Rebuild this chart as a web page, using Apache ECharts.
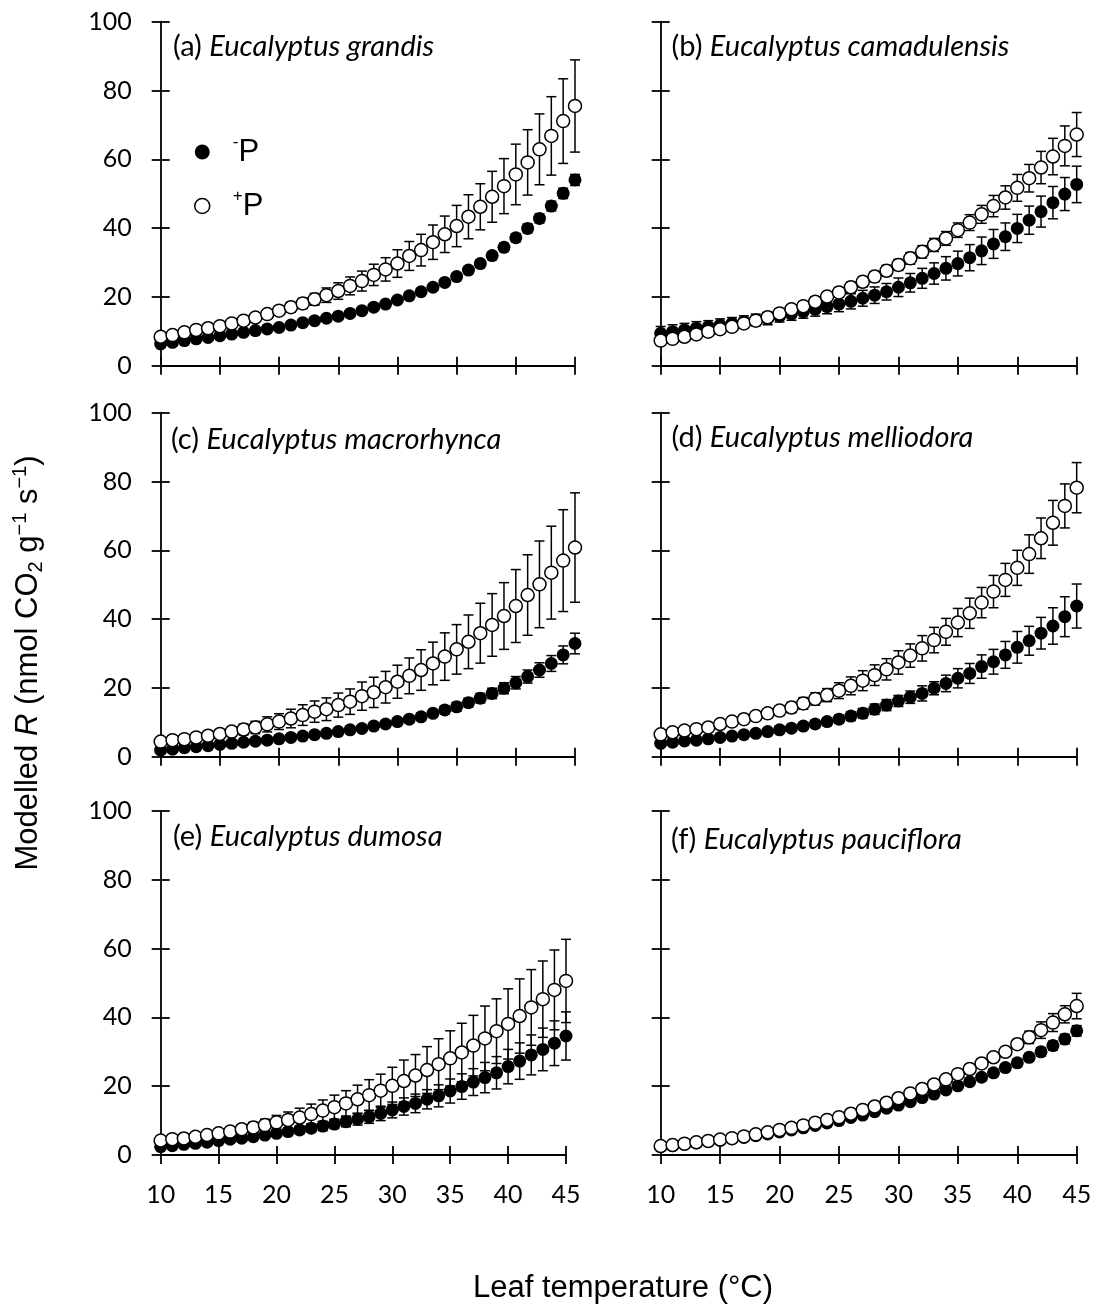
<!DOCTYPE html>
<html><head><meta charset="utf-8">
<script src="https://cdn.jsdelivr.net/npm/echarts@6/dist/echarts.min.js"></script>
<style>html,body{margin:0;padding:0;background:#fff}#c{width:1096px;height:1309px}</style>
</head><body><div id="c"></div>
<script>
// ---------- DATA ----------
const temps = [10,11,12,13,14,15,16,17,18,19,20,21,22,23,24,25,26,27,28,29,30,31,32,33,34,35,36,37,38,39,40,41,42,43,44,45];
const xTicks = [10,15,20,25,30,35,40,45];
const yTicks = [0,20,40,60,80,100];
const seriesNames = ['-P','+P'];
const panelLetters = ['(a)','(b)','(c)','(d)','(e)','(f)'];
const species = ['Eucalyptus grandis','Eucalyptus camadulensis','Eucalyptus macrorhynca','Eucalyptus melliodora','Eucalyptus dumosa','Eucalyptus pauciflora'];

const aMinus    = [6.3,6.8,7.3,7.8,8.2,8.7,9.2,9.7,10.2,10.7,11.1,11.8,12.5,13.1,13.8,14.4,15.2,16.0,17.0,17.9,19.1,20.3,21.5,22.8,24.2,25.9,27.8,29.7,32.0,34.4,37.2,39.9,42.8,46.4,50.1,54.0];
const aMinusErr = [0.2,0.2,0.2,0.2,0.3,0.3,0.3,0.3,0.3,0.4,0.4,0.4,0.4,0.5,0.5,0.5,0.6,0.6,0.6,0.7,0.7,0.8,0.8,0.9,0.9,1.0,1.0,1.1,1.1,1.2,1.2,1.3,1.3,1.4,1.5,1.6];
const aPlus     = [8.4,8.9,9.7,10.4,10.9,11.5,12.3,13.1,14.0,15.0,16.0,17.0,18.1,19.3,20.5,21.7,23.2,24.6,26.4,28.0,29.7,31.9,33.6,35.9,38.2,40.6,43.3,46.2,49.1,52.2,55.6,59.1,62.9,66.8,71.1,75.5];
const aPlusErr  = [0.5,0.5,0.6,0.6,0.7,0.8,0.8,0.9,1.0,1.1,1.2,1.4,1.5,1.7,2.1,2.4,2.6,2.9,3.1,3.4,4.0,4.2,4.6,5.0,5.3,6.0,6.4,6.7,7.4,8.0,8.8,9.5,10.3,11.4,12.3,13.4];

const bMinus    = [9.4,9.9,10.4,10.9,11.3,11.8,12.3,12.8,13.3,13.7,14.4,15.0,15.7,16.4,17.2,17.9,18.7,19.6,20.5,21.5,22.8,24.1,25.4,26.8,28.3,29.7,31.4,33.4,35.4,37.5,39.9,42.3,44.8,47.4,49.9,52.7];
const bMinusErr = [2.0,2.0,1.9,1.9,1.8,1.8,1.7,1.7,1.7,1.8,1.7,1.8,1.9,2.0,2.1,2.2,2.2,2.3,2.4,2.4,2.7,2.7,2.9,3.1,3.4,3.6,3.8,4.0,4.2,4.0,4.1,4.1,4.5,4.7,4.8,5.3];
const bPlus     = [7.3,7.8,8.4,9.1,9.9,10.6,11.3,12.3,13.1,14.1,15.2,16.4,17.3,18.6,20.1,21.3,22.8,24.4,25.9,27.6,29.3,31.2,33.1,35.1,37.0,39.4,41.6,44.0,46.4,48.9,51.7,54.5,57.6,60.8,63.9,67.2];
const bPlusErr  = [1.0,1.0,1.0,1.0,1.1,1.1,1.1,1.2,1.2,1.2,1.3,1.3,1.3,1.4,1.4,1.4,1.5,1.5,1.5,1.6,1.6,1.7,1.8,1.9,2.0,2.1,2.3,2.6,3.1,3.4,3.9,4.0,4.7,5.3,5.8,6.4];

const cMinus    = [1.9,2.2,2.6,2.9,3.2,3.6,3.9,4.2,4.5,4.8,5.2,5.6,6.0,6.4,6.8,7.3,7.8,8.2,8.9,9.5,10.2,10.9,11.6,12.6,13.6,14.5,15.7,17.0,18.4,19.9,21.5,23.3,25.2,27.1,29.6,32.9];
const cMinusErr = [0.2,0.2,0.2,0.3,0.3,0.3,0.3,0.4,0.4,0.4,0.5,0.5,0.5,0.6,0.6,0.7,0.7,0.8,0.8,0.9,0.9,1.0,1.0,1.1,1.2,1.3,1.3,1.4,1.5,1.6,1.8,1.9,2.1,2.3,2.6,3.0];
const cPlus     = [4.4,4.8,5.1,5.6,6.1,6.6,7.3,7.9,8.5,9.4,10.2,11.1,12.1,13.1,13.8,15.0,16.0,17.6,18.7,20.2,21.8,23.5,25.2,27.1,29.1,31.2,33.4,35.9,38.3,40.9,43.8,47.0,50.1,53.5,57.0,60.8];
const cPlusErr  = [0.6,0.7,0.7,0.8,1.0,1.2,1.4,1.6,1.8,2.2,2.3,2.7,3.0,3.1,3.3,3.5,3.7,4.1,4.4,4.6,4.8,5.2,5.9,6.2,6.9,7.2,7.8,8.7,9.1,9.7,10.6,11.7,12.6,13.5,14.8,15.9];

const dMinus    = [3.9,4.2,4.6,4.8,5.2,5.6,6.0,6.4,6.8,7.3,7.8,8.3,8.9,9.5,10.2,10.9,11.8,12.6,13.8,15.0,16.2,17.3,18.4,19.9,21.3,22.8,24.2,26.2,27.6,29.6,31.8,33.7,35.9,38.0,40.7,43.8];
const dMinusErr = [0.4,0.4,0.5,0.5,0.6,0.6,0.7,0.7,0.8,0.8,0.9,0.9,1.0,1.0,1.1,1.2,1.3,1.4,1.5,1.6,1.6,1.8,2.2,1.9,2.4,2.8,2.9,3.4,3.6,3.9,4.6,4.2,4.6,5.3,5.8,6.4];
const dPlus     = [6.5,7.1,7.6,8.0,8.5,9.5,10.2,10.9,11.8,12.6,13.4,14.3,15.5,16.8,17.9,19.2,20.6,22.1,23.7,25.4,27.4,29.4,31.5,33.9,36.3,39.0,41.7,44.8,48.0,51.4,54.9,58.9,63.5,68.0,72.9,78.2];
const dPlusErr  = [0.5,0.6,0.6,0.7,0.8,0.9,1.0,1.1,1.2,1.3,1.4,1.5,1.7,1.8,1.9,2.3,2.6,2.9,3.0,3.1,3.4,3.4,3.7,3.7,3.9,4.1,4.4,4.4,4.7,4.8,5.1,5.6,5.9,6.5,6.4,7.3];

const eMinus    = [2.4,2.7,3.1,3.4,3.7,4.2,4.6,4.9,5.3,5.8,6.3,6.8,7.3,7.8,8.4,9.0,9.7,10.4,11.1,12.1,13.1,14.1,15.0,16.2,17.2,18.6,19.9,21.2,22.5,23.9,25.7,27.3,29.1,30.7,32.5,34.6];
const eMinusErr = [0.4,0.4,0.5,0.5,0.6,0.6,0.7,0.7,0.8,0.8,0.9,1.0,1.1,1.2,1.3,1.3,1.5,1.7,1.9,2.1,2.3,2.5,2.7,2.8,3.2,3.5,3.7,3.9,4.4,4.7,5.0,5.3,5.8,6.2,6.5,7.0];
const ePlus     = [4.2,4.6,4.8,5.3,5.8,6.3,6.8,7.5,8.0,8.7,9.5,10.2,10.9,11.9,12.9,13.9,15.0,16.2,17.4,18.7,20.1,21.5,23.1,24.7,26.4,28.1,29.8,31.8,33.9,36.0,38.1,40.4,42.9,45.3,48.0,50.6];
const ePlusErr  = [0.5,0.5,0.6,0.6,0.7,0.9,1.1,1.3,1.5,1.7,2.0,2.3,2.7,2.9,3.1,3.5,3.7,4.1,4.5,4.8,5.4,6.1,6.1,6.8,7.4,8.0,8.5,8.8,9.4,9.4,10.2,10.8,11.0,11.1,11.6,12.1];

const fMinus    = [2.4,2.7,3.1,3.5,3.9,4.3,4.7,5.1,5.6,6.1,6.7,7.3,7.9,8.6,9.3,10.0,10.9,11.6,12.6,13.6,14.5,15.5,16.7,17.7,18.9,20.1,21.3,22.6,23.9,25.4,26.8,28.4,30.0,31.8,33.7,36.1];
const fMinusErr = [0.1,0.1,0.1,0.2,0.2,0.2,0.2,0.2,0.3,0.3,0.3,0.3,0.4,0.4,0.4,0.4,0.5,0.5,0.5,0.6,0.6,0.6,0.7,0.7,0.8,0.8,0.9,0.9,1.0,1.0,1.1,1.1,1.2,1.3,1.4,1.5];
const fPlus     = [2.6,2.9,3.3,3.7,4.1,4.5,4.9,5.4,6.0,6.6,7.3,7.9,8.6,9.4,10.2,11.0,12.0,13.1,14.1,15.2,16.5,17.9,19.2,20.5,22.0,23.5,25.0,26.6,28.4,30.0,32.2,34.2,36.3,38.5,40.9,43.3];
const fPlusErr  = [0.2,0.2,0.2,0.3,0.3,0.3,0.3,0.4,0.4,0.4,0.4,0.5,0.5,0.5,0.6,0.6,0.6,0.7,0.7,0.7,0.8,0.8,0.9,0.9,0.9,1.0,1.0,1.1,1.1,1.2,1.3,1.8,2.4,2.6,2.5,3.7];

const panelData = [
  [aMinus,aMinusErr,aPlus,aPlusErr],
  [bMinus,bMinusErr,bPlus,bPlusErr],
  [cMinus,cMinusErr,cPlus,cPlusErr],
  [dMinus,dMinusErr,dPlus,dPlusErr],
  [eMinus,eMinusErr,ePlus,ePlusErr],
  [fMinus,fMinusErr,fPlus,fPlusErr]
];

// ---------- LAYOUT ----------
const panels = [
  {left:160.7, top:21.7,  width:414.3, titleX:173,   titleY:46.5},
  {left:660.7, top:21.7,  width:416,   titleX:671.5, titleY:47},
  {left:160.7, top:412.7, width:414.3, titleX:171,   titleY:440},
  {left:660.7, top:412.7, width:416,   titleX:671.5, titleY:437.5},
  {left:160.7, top:811,   width:405.3, titleX:173,   titleY:836.5},
  {left:660.7, top:811,   width:416,   titleX:671,   titleY:840}
];
const PH = 344;
const BLACK = '#000';
const AX_W = 1.8;
const TICK_LEN = 9;
const tickFont = 'Lato';

function errRender(params, api) {
  const x = api.value(0), lo = api.value(1), hi = api.value(2);
  const pHi = api.coord([x, hi]);
  const pLo = api.coord([x, lo]);
  const h = 5;
  const st = {stroke: BLACK, lineWidth: 1.5};
  return {type: 'group', children: [
    {type: 'line', shape: {x1: pHi[0], y1: pHi[1], x2: pLo[0], y2: pLo[1]}, style: st},
    {type: 'line', shape: {x1: pHi[0]-h, y1: pHi[1], x2: pHi[0]+h, y2: pHi[1]}, style: st},
    {type: 'line', shape: {x1: pLo[0]-h, y1: pLo[1], x2: pLo[0]+h, y2: pLo[1]}, style: st}
  ]};
}

const grid = [], xAxis = [], yAxis = [], series = [], title = [];
const xMin = xTicks[0], xMax = xTicks[xTicks.length-1], xInt = xTicks[1]-xTicks[0];
const yMin = yTicks[0], yMax = yTicks[yTicks.length-1], yInt = yTicks[1]-yTicks[0];

panels.forEach((p, i) => {
  grid.push({left: p.left, top: p.top, width: p.width, height: PH, containLabel: false});
  const showX = i >= 4, showY = i % 2 === 0;
  xAxis.push({type:'value', gridIndex:i, position:'bottom', min:xMin, max:xMax, interval:xInt,
    axisLine:{show:true, onZero:false, lineStyle:{color:BLACK, width:AX_W}},
    axisTick:{show:true, inside:false, length:TICK_LEN, lineStyle:{color:BLACK, width:AX_W}},
    splitLine:{show:false},
    axisLabel:{show:showX, margin:27, color:BLACK, fontFamily:tickFont, fontSize:25}});
  xAxis.push({type:'value', gridIndex:i, position:'bottom', min:xMin, max:xMax, interval:xInt,
    axisLine:{show:false, onZero:false},
    axisTick:{show:true, inside:true, length:TICK_LEN, lineStyle:{color:BLACK, width:AX_W}},
    splitLine:{show:false}, axisLabel:{show:false}});
  yAxis.push({type:'value', gridIndex:i, position:'left', min:yMin, max:yMax, interval:yInt,
    axisLine:{show:true, onZero:false, lineStyle:{color:BLACK, width:AX_W}},
    axisTick:{show:true, inside:false, length:TICK_LEN, lineStyle:{color:BLACK, width:AX_W}},
    splitLine:{show:false},
    axisLabel:{show:showY, margin:29, color:BLACK, fontFamily:tickFont, fontSize:25}});
  yAxis.push({type:'value', gridIndex:i, position:'left', min:yMin, max:yMax, interval:yInt,
    axisLine:{show:false, onZero:false},
    axisTick:{show:true, inside:true, length:TICK_LEN, lineStyle:{color:BLACK, width:AX_W}},
    splitLine:{show:false}, axisLabel:{show:false}});

  const [mn, mnE, pl, plE] = panelData[i];
  const xi = 2*i, yi = 2*i;
  series.push({type:'custom', name:seriesNames[0]+' err', xAxisIndex:xi, yAxisIndex:yi, clip:false, silent:true,
    encode:{x:0, y:[1,2]}, renderItem:errRender,
    data: temps.map((t,k)=>[t, mn[k]-mnE[k], mn[k]+mnE[k]])});
  series.push({type:'scatter', name:seriesNames[0], xAxisIndex:xi, yAxisIndex:yi, clip:false, silent:true,
    symbol:'circle', symbolSize:13, itemStyle:{color:BLACK, borderWidth:0, opacity:1},
    emphasis:{disabled:true},
    data: temps.map((t,k)=>[t, mn[k]])});
  series.push({type:'custom', name:seriesNames[1]+' err', xAxisIndex:xi, yAxisIndex:yi, clip:false, silent:true,
    encode:{x:0, y:[1,2]}, renderItem:errRender,
    data: temps.map((t,k)=>[t, pl[k]-plE[k], pl[k]+plE[k]])});
  series.push({type:'scatter', name:seriesNames[1], xAxisIndex:xi, yAxisIndex:yi, clip:false, silent:true,
    symbol:'circle', symbolSize:13, itemStyle:{color:'#fff', borderColor:BLACK, borderWidth:1.5, opacity:1},
    emphasis:{disabled:true},
    data: temps.map((t,k)=>[t, pl[k]])});

  const tf = {fontFamily:'Lato', fontSize:29, lineHeight:32, color:BLACK, fontWeight:'normal'};
  title.push({left:p.titleX, top:p.titleY-16, padding:0,
    text:'{n|' + panelLetters[i] + ' }{i|' + species[i] + '}',
    textStyle:Object.assign({}, tf, {rich:{n:Object.assign({}, tf), i:Object.assign({}, tf, {fontStyle:'italic'})}})});
});

const titleFont = 'Liberation Sans';
const option = {
  backgroundColor:'#fff',
  animation:false,
  title,
  grid, xAxis, yAxis, series,
  legend:{
    left:194, top:134, orient:'vertical', padding:0, itemWidth:15, itemHeight:15, itemGap:18,
    selectedMode:false,
    data:[
      {name:seriesNames[0], icon:'circle', itemStyle:{color:BLACK, borderWidth:0, opacity:1}},
      {name:seriesNames[1], icon:'circle', itemStyle:{color:'#fff', borderColor:BLACK, borderWidth:1.5, opacity:1}}
    ],
    formatter: n => '{g| }' + (n === seriesNames[0] ? '{s|-}' : '{s|+}') + '{p|P}',
    textStyle:{fontFamily:titleFont, fontSize:30, lineHeight:36, color:BLACK, rich:{
      g:{fontFamily:titleFont, fontSize:10, lineHeight:10, width:18, color:BLACK},
      s:{fontFamily:titleFont, fontSize:17, lineHeight:17, verticalAlign:'top', color:BLACK},
      p:{fontFamily:titleFont, fontSize:31, lineHeight:36, color:BLACK}
    }}
  },
  graphic:[
    {type:'text', x:623, y:1288, silent:true,
      style:{text:'Leaf temperature (°C)', fontFamily:titleFont, fontSize:31, fill:BLACK, align:'center', verticalAlign:'middle'}},
    {type:'text', x:28, y:663, rotation:Math.PI/2, silent:true,
      style:{text:'{a|Modelled }{i|R}{a| (nmol CO}{b|2}{a| g}{c|−1}{a| s}{c|−1}{a|)}',
        align:'center', verticalAlign:'middle',
        rich:{
          a:{fontFamily:titleFont, fontSize:31, lineHeight:36, fill:BLACK},
          i:{fontFamily:titleFont, fontSize:31, lineHeight:36, fill:BLACK, fontStyle:'italic'},
          b:{fontFamily:titleFont, fontSize:20, lineHeight:20, fill:BLACK, verticalAlign:'bottom'},
          c:{fontFamily:titleFont, fontSize:20, lineHeight:20, fill:BLACK, verticalAlign:'top'}
        }}}
  ]
};
const chart = echarts.init(document.getElementById('c'), null, {renderer:'canvas'});
chart.setOption(option);
</script></body></html>
